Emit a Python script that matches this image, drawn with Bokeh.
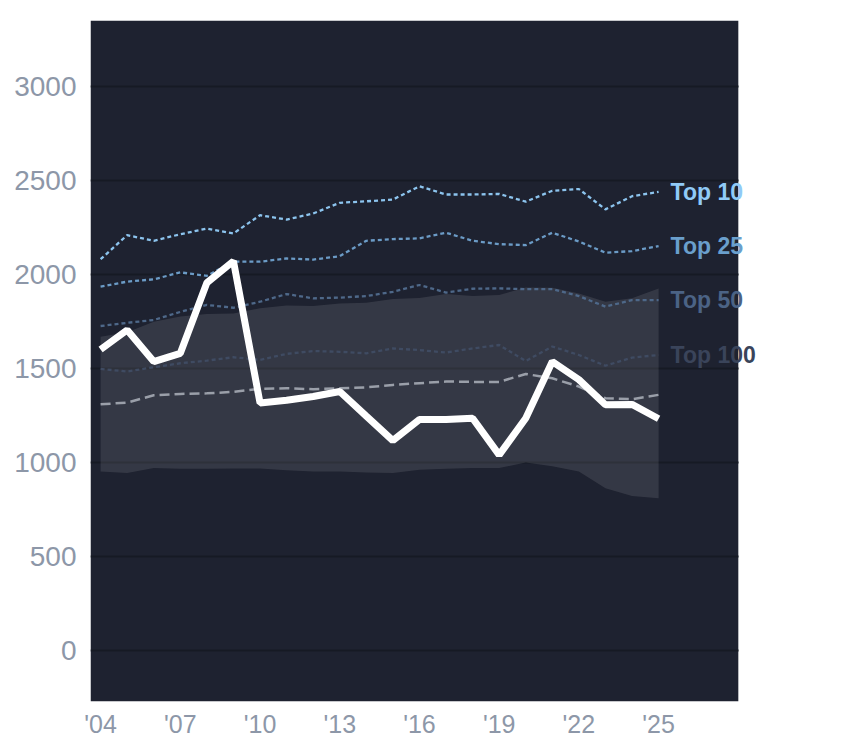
from bokeh.plotting import figure
from bokeh.models import Range1d, FixedTicker, Label, BoxAnnotation
from bokeh.embed import file_html
from bokeh.resources import INLINE

years = list(range(2004, 2026))
main = [1600, 1704, 1536, 1580, 1955, 2070, 1316, 1330, 1350, 1377, 1246, 1116, 1228, 1228, 1235, 1040, 1235, 1536, 1440, 1306, 1308, 1232]
top10 = [2080, 2208, 2178, 2213, 2243, 2217, 2314, 2291, 2323, 2380, 2388, 2397, 2468, 2424, 2424, 2427, 2386, 2444, 2453, 2345, 2415, 2438]
top25 = [1934, 1961, 1973, 2010, 1992, 2067, 2067, 2084, 2078, 2096, 2178, 2187, 2191, 2221, 2178, 2160, 2155, 2221, 2174, 2115, 2123, 2150]
top50 = [1725, 1742, 1757, 1800, 1837, 1822, 1854, 1895, 1872, 1876, 1884, 1907, 1943, 1903, 1923, 1925, 1921, 1921, 1884, 1828, 1863, 1863]
top100 = [1497, 1483, 1506, 1527, 1541, 1559, 1545, 1577, 1592, 1588, 1580, 1606, 1597, 1584, 1606, 1624, 1539, 1616, 1571, 1514, 1557, 1571]
median = [1309, 1318, 1357, 1364, 1367, 1375, 1391, 1394, 1389, 1394, 1399, 1412, 1421, 1430, 1428, 1428, 1470, 1447, 1403, 1341, 1336, 1359]
band_hi = [1668, 1692, 1748, 1775, 1789, 1792, 1819, 1834, 1831, 1845, 1849, 1868, 1874, 1895, 1884, 1890, 1930, 1928, 1898, 1854, 1872, 1925]
band_lo = [952, 943, 970, 966, 966, 968, 968, 958, 952, 952, 946, 943, 961, 966, 970, 970, 1000, 979, 952, 862, 822, 810]

x_ticks = [2004, 2007, 2010, 2013, 2016, 2019, 2022, 2025]
x_tick_labels = ["'04", "'07", "'10", "'13", "'16", "'19", "'22", "'25"]
y_ticks = [0, 500, 1000, 1500, 2000, 2500, 3000]

tier_names = ["Top 10", "Top 25", "Top 50", "Top 100"]
tier_series = [top10, top25, top50, top100]
tier_line_colors = ["#8cc4ee", "#6b9bc6", "#4e6889", "#3f4b62"]
tier_label_colors = ["#90caf7", "#6a9fcc", "#4b6385", "#3a445a"]

X_START, X_PANEL_END, X_END = 2003.62, 2028.0, 2030.34

p = figure(width=810, height=740, output_backend="svg", toolbar_location=None,
           x_range=Range1d(X_START, X_END), y_range=Range1d(-271, 3349),
           min_border_left=90, min_border_right=10, min_border_top=20, min_border_bottom=38)
p.background_fill_color = "white"
p.border_fill_color = "white"
p.outline_line_color = None

p.xgrid.grid_line_color = None
p.ygrid.grid_line_color = "#161a24"
p.ygrid.grid_line_width = 2
p.ygrid.ticker = FixedTicker(ticks=y_ticks)

p.xaxis.ticker = FixedTicker(ticks=x_ticks)
p.xaxis.major_label_overrides = {t: l for t, l in zip(x_ticks, x_tick_labels)}
p.yaxis.ticker = FixedTicker(ticks=y_ticks)
for ax in (p.xaxis, p.yaxis):
    ax.axis_line_color = None
    ax.major_tick_line_color = None
    ax.minor_tick_line_color = None
    ax.major_tick_out = 0
    ax.major_tick_in = 0
    ax.major_label_text_color = "#8d97a8"
    ax.major_label_text_font = "Liberation Sans"
p.yaxis.major_label_text_font_size = "28px"
p.yaxis.major_label_standoff = 14
p.xaxis.major_label_text_font_size = "25px"
p.xaxis.major_label_standoff = 8

# dark panel behind the grid
dark_panel = BoxAnnotation(right=X_PANEL_END, fill_color="#1e2230", fill_alpha=1.0,
                           line_color=None, level="underlay")
grids = list(p.center)
extra = []
try:
    p.ygrid.cross_bounds = (X_START, X_PANEL_END)
except Exception:
    extra = [BoxAnnotation(left=X_PANEL_END, fill_color="white", fill_alpha=1.0,
                           line_color=None, level="underlay")]
p.center = [dark_panel] + grids + extra

p.varea(x=years, y1=band_lo, y2=band_hi, fill_color="white", fill_alpha=0.1)

p.line(years, median, line_color="#9a9fa9", line_width=2.5, line_dash="10 5")
for s, c in zip(tier_series, tier_line_colors):
    p.line(years, s, line_color=c, line_width=2.3, line_dash="4 3")

p.line(years, main, line_color="white", line_width=7)

for name, s, c in zip(tier_names, tier_series, tier_label_colors):
    p.add_layout(Label(x=years[-1], y=s[-1], x_offset=12, text=name,
                       text_color=c, text_font="Liberation Sans", text_font_style="bold",
                       text_font_size="23px", text_baseline="middle", text_align="left"))

open("out.html", "w").write(file_html(p, INLINE))
